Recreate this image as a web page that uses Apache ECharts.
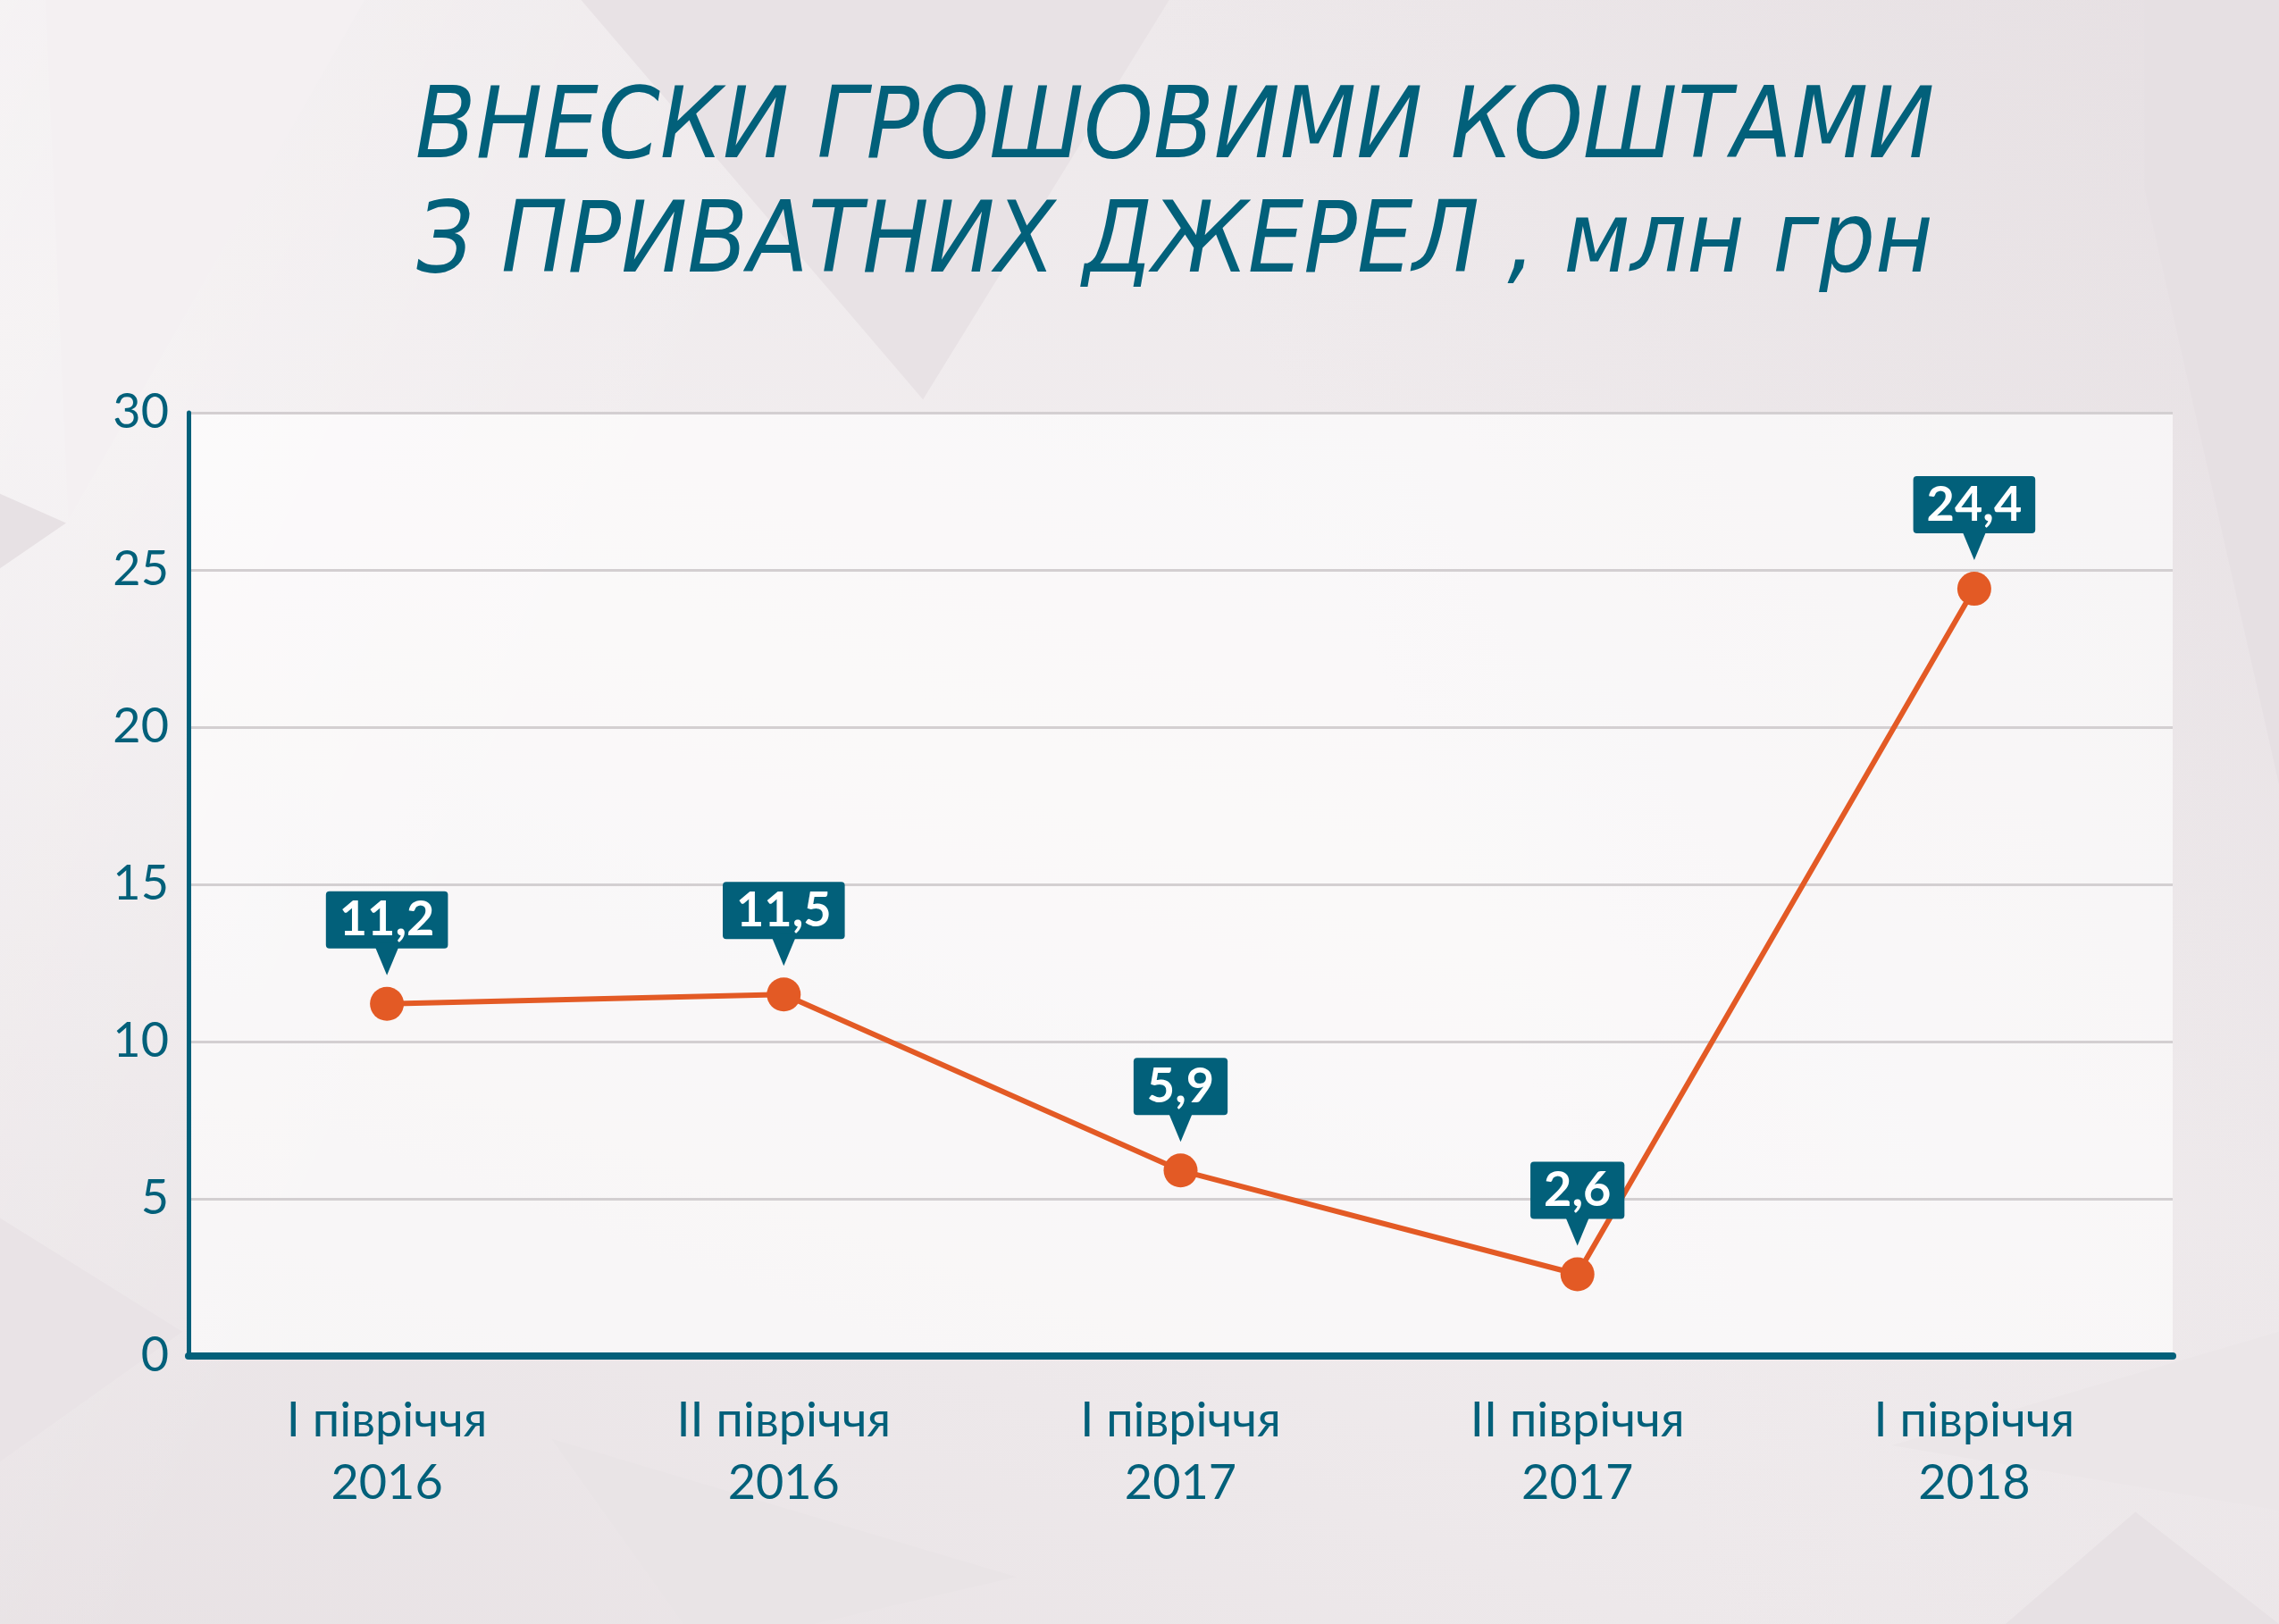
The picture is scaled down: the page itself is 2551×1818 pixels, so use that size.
<!DOCTYPE html>
<html>
<head>
<meta charset="utf-8">
<script src="https://cdn.jsdelivr.net/npm/echarts@6/dist/echarts.min.js"></script>
<style>
  html, body { margin: 0; padding: 0; }
  body {
    position: relative;
    width: 2551px; height: 1818px; overflow: hidden;
    background-color: #efeaec;
    background-image:
      linear-gradient(115deg, rgba(255,255,255,0.35) 0%, rgba(255,255,255,0) 30%),
      linear-gradient(250deg, rgba(220,212,216,0.35) 0%, rgba(255,255,255,0) 40%),
      linear-gradient(20deg, rgba(225,218,221,0.5) 0%, rgba(255,255,255,0.2) 50%, rgba(230,224,227,0.4) 100%);
  }
  .poly { position: absolute; left: 0; top: 0; width: 100%; height: 100%; }
  .p1 { background: #e8e2e5; clip-path: polygon(25.5% 0, 51.3% 0, 40.5% 24.6%); }
  .p2 { background: #e6e0e3; clip-path: polygon(94.1% 0, 100% 0, 100% 48.3%, 94.1% 11.6%); }
  .p3 { background: #e9e4e6; clip-path: polygon(24.2% 88.6%, 44.6% 97.1%, 35.7% 100%, 30% 100%); }
  .p4 { background: #e7e1e4; clip-path: polygon(93.7% 93.1%, 100% 100%, 88% 100%); }
  .p5 { background: #e7e1e4; clip-path: polygon(0 30.4%, 2.9% 32.2%, 0 35%); }
  .p6 { background: #ebe6e8; clip-path: polygon(83% 89%, 100% 82%, 100% 93%); }
  .p7 { background: #e9e3e6; clip-path: polygon(0 75%, 8% 82%, 0 90%); }
  .p8 { background: #f4f0f2; clip-path: polygon(2% 0, 16% 0, 3% 32%); }
  #chart { position: absolute; left: 0; top: 0; width: 2551px; height: 1818px; }
</style>
</head>
<body>
<div class="poly p1"></div>
<div class="poly p2"></div>
<div class="poly p3"></div>
<div class="poly p4"></div>
<div class="poly p5"></div>
<div class="poly p6"></div>
<div class="poly p7"></div>
<div class="poly p8"></div>
<div id="chart"></div>
<script>
var teal = '#02607a';
var orange = '#e35a25';

var categories = [
  'I півріччя\n2016',
  'II півріччя\n2016',
  'I півріччя\n2017',
  'II півріччя\n2017',
  'I півріччя\n2018'
];
var values = [11.2, 11.5, 5.9, 2.6, 24.4];
var yTicks = [0, 5, 10, 15, 20, 25, 30];

var chart = echarts.init(document.getElementById('chart'));

var option = {
  backgroundColor: 'transparent',
  animation: false,
  title: {
    text: 'ВНЕСКИ ГРОШОВИМИ КОШТАМИ\nЗ ПРИВАТНИХ ДЖЕРЕЛ , млн грн',
    left: 1310,
    top: 78,
    textAlign: 'center',
    textStyle: {
      color: teal,
      fontFamily: 'DejaVu Sans Condensed',
      fontStyle: 'italic',
      fontWeight: 'normal',
      fontSize: 110,
      lineHeight: 128
    }
  },
  grid: {
    left: 211,
    right: 119,
    top: 462,
    bottom: 300,
    show: true,
    backgroundColor: 'rgba(255,255,255,0.62)',
    borderWidth: 0
  },
  xAxis: {
    type: 'category',
    data: categories,
    boundaryGap: true,
    axisLine: { lineStyle: { color: teal, width: 8 } },
    axisTick: { alignWithLabel: true, length: 18, lineStyle: { color: teal, width: 4 } },
    axisLabel: {
      color: teal,
      fontFamily: 'Lato',
      fontSize: 54,
      lineHeight: 70,
      margin: 38
    }
  },
  yAxis: {
    type: 'value',
    min: yTicks[0],
    max: yTicks[yTicks.length - 1],
    interval: 5,
    axisLine: { show: true, lineStyle: { color: teal, width: 5 } },
    axisTick: { show: false },
    splitLine: { lineStyle: { color: '#d3cfd1', width: 3 } },
    axisLabel: {
      color: teal,
      fontFamily: 'Lato',
      fontSize: 54,
      margin: 22
    }
  },
  series: [
    {
      type: 'line',
      data: values,
      symbol: 'circle',
      symbolSize: 38,
      itemStyle: { color: orange },
      lineStyle: { color: orange, width: 6 },
      z: 3,
      label: {
        show: true,
        position: 'top',
        distance: 43,
        formatter: function (p) { return String(p.value).replace('.', ','); },
        color: '#ffffff',
        fontFamily: 'Lato',
        fontWeight: 'bold',
        fontSize: 54,
        lineHeight: 54,
        backgroundColor: teal,
        borderRadius: 4,
        padding: [5, 15, 5, 15]
      }
    },
    {
      type: 'scatter',
      data: values,
      symbol: 'triangle',
      symbolRotate: 180,
      symbolSize: [30, 36],
      symbolOffset: [0, -50],
      itemStyle: { color: teal, opacity: 1 },
      silent: true,
      z: 4
    }
  ]
};

chart.setOption(option);
</script>
</body>
</html>
